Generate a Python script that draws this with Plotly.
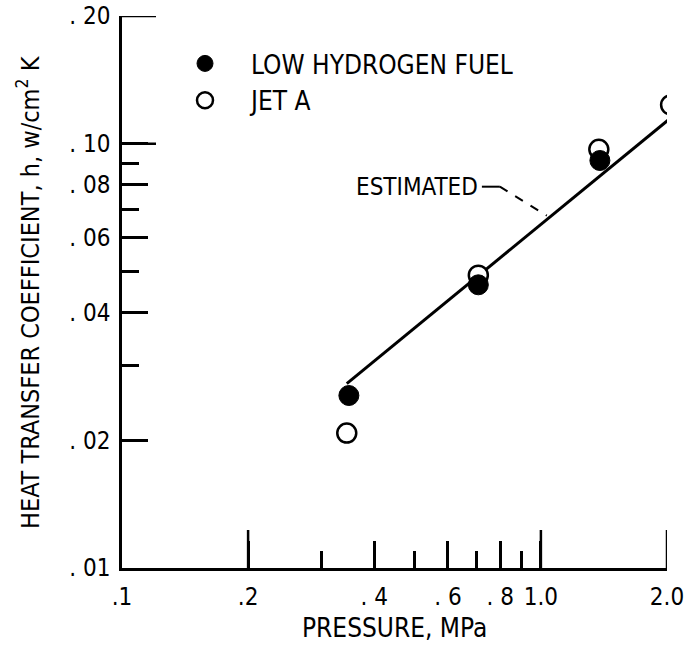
import math
import plotly.graph_objects as go

# ---- data ----
low_h_pressure = [0.348, 0.709, 1.383]
low_h_coeff = [0.0255, 0.0465, 0.0913]
jet_a_pressure = [0.344, 0.709, 1.375, 2.04]
jet_a_coeff = [0.0208, 0.0490, 0.0970, 0.1235]
est_pressure = [0.344, 2.03]
est_coeff = [0.0272, 0.1145]

x_label_vals = [0.1, 0.2, 0.4, 0.6, 0.8, 1.0, 2.0]
x_label_text = [".1", ".2", ". 4", ". 6", ". 8", "1.0", "2.0"]
x_long_ticks = [0.2, 1.0, 2.0]
x_short_ticks = [0.3, 0.5, 0.7, 0.9]

y_label_vals = [0.2, 0.1, 0.08, 0.06, 0.04, 0.02, 0.01]
y_label_text = [". 20", ". 10", ". 08", ". 06", ". 04", ". 02", ". 01"]
y_long_ticks = [0.2, 0.1]
y_short_ticks = [0.09, 0.07, 0.05, 0.03]

# annotation leader (data coords)
est_label_pos = (0.715, 0.0792)
leader_solid = [(0.723, 0.0792), (0.798, 0.0792)]
leader_dash = [(0.798, 0.0792), (1.033, 0.0677)]

FONT = "DejaVu Sans Condensed, Liberation Sans Narrow, Arial Narrow, DejaVu Sans, sans-serif"
X_RANGE = [math.log10(0.1), math.log10(2.0)]
Y_RANGE = [math.log10(0.01), math.log10(0.2)]
PLOT_W = 545
PLOT_H = 552

fig = go.Figure()

fig.add_trace(go.Scatter(
    x=est_pressure, y=est_coeff, mode="lines",
    line=dict(color="black", width=3), showlegend=False, hoverinfo="skip"))

fig.add_trace(go.Scatter(
    x=jet_a_pressure, y=jet_a_coeff, mode="markers", name="JET A",
    legendrank=2, legendgroup="b",
    marker=dict(symbol="circle", size=19, color="white",
                line=dict(color="black", width=2.5))))

fig.add_trace(go.Scatter(
    x=low_h_pressure, y=low_h_coeff, mode="markers", name="LOW HYDROGEN FUEL",
    legendrank=1, legendgroup="a",
    marker=dict(symbol="circle", size=20, color="black",
                line=dict(color="black", width=1))))

axis_common = dict(showgrid=False, zeroline=False, type="log", automargin=False,
                   showline=True, linecolor="black", linewidth=2.5,
                   ticks="inside", tickcolor="black", tickwidth=2.5, mirror=False)

fig.update_layout(
    width=685, height=647,
    margin=dict(l=122, r=18, t=16, b=79, autoexpand=False),
    paper_bgcolor="white", plot_bgcolor="white",
    font=dict(family=FONT, color="black", size=20),
    showlegend=True,
    legend=dict(x=(159 - 122) / PLOT_W, y=(568 - 40) / PLOT_H, xanchor="left", yanchor="top",
                font=dict(size=26, family=FONT, color="black"),
                bgcolor="rgba(0,0,0,0)", itemwidth=82, tracegroupgap=0,
                traceorder="grouped"),
    xaxis=dict(**axis_common, range=X_RANGE,
               tickvals=x_label_vals, ticktext=x_label_text, ticklen=27,
               minor=dict(tickvals=x_short_ticks, ticklen=17, ticks="inside",
                          tickcolor="black", tickwidth=2.5),
               tickfont=dict(size=24, family=FONT), ticklabelstandoff=5),
    yaxis=dict(**axis_common, range=Y_RANGE,
               tickvals=y_label_vals, ticktext=y_label_text, ticklen=26,
               minor=dict(tickvals=y_short_ticks, ticklen=17, ticks="inside",
                          tickcolor="black", tickwidth=2.5),
               tickfont=dict(size=24, family=FONT), ticklabelstandoff=4),
)

# longer ticks
for v in x_long_ticks:
    fig.add_shape(type="line", xref="x", yref="y domain", x0=v, x1=v,
                  y0=0, y1=38 / PLOT_H, line=dict(color="black", width=2.5))
for v in y_long_ticks:
    fig.add_shape(type="line", xref="x domain", yref="y", y0=v, y1=v,
                  x0=0, x1=34 / PLOT_W, line=dict(color="black", width=2.5))

# axis titles
fig.add_annotation(text="PRESSURE, MPa", xref="paper", yref="paper",
                   x=0.5, y=(568 - 628) / PLOT_H, xanchor="center", yanchor="middle",
                   showarrow=False, font=dict(size=26, family=FONT))
fig.add_annotation(text="HEAT TRANSFER COEFFICIENT, h, w/cm<sup>2</sup> K",
                   xref="paper", yref="paper", textangle=-90,
                   x=(28 - 122) / PLOT_W, y=0.5, xanchor="center", yanchor="middle",
                   showarrow=False, font=dict(size=25, family=FONT))

# ESTIMATED label with leader
fig.add_annotation(text="ESTIMATED", xref="x", yref="y",
                   x=math.log10(est_label_pos[0]), y=math.log10(est_label_pos[1]),
                   xanchor="right", yanchor="middle", showarrow=False,
                   font=dict(size=24, family=FONT))
fig.add_shape(type="line", xref="x", yref="y",
              x0=leader_solid[0][0], y0=leader_solid[0][1],
              x1=leader_solid[1][0], y1=leader_solid[1][1],
              line=dict(color="black", width=2))
fig.add_shape(type="line", xref="x", yref="y",
              x0=leader_dash[0][0], y0=leader_dash[0][1],
              x1=leader_dash[1][0], y1=leader_dash[1][1],
              line=dict(color="black", width=2, dash="dash"))

fig.write_html("out.html")
